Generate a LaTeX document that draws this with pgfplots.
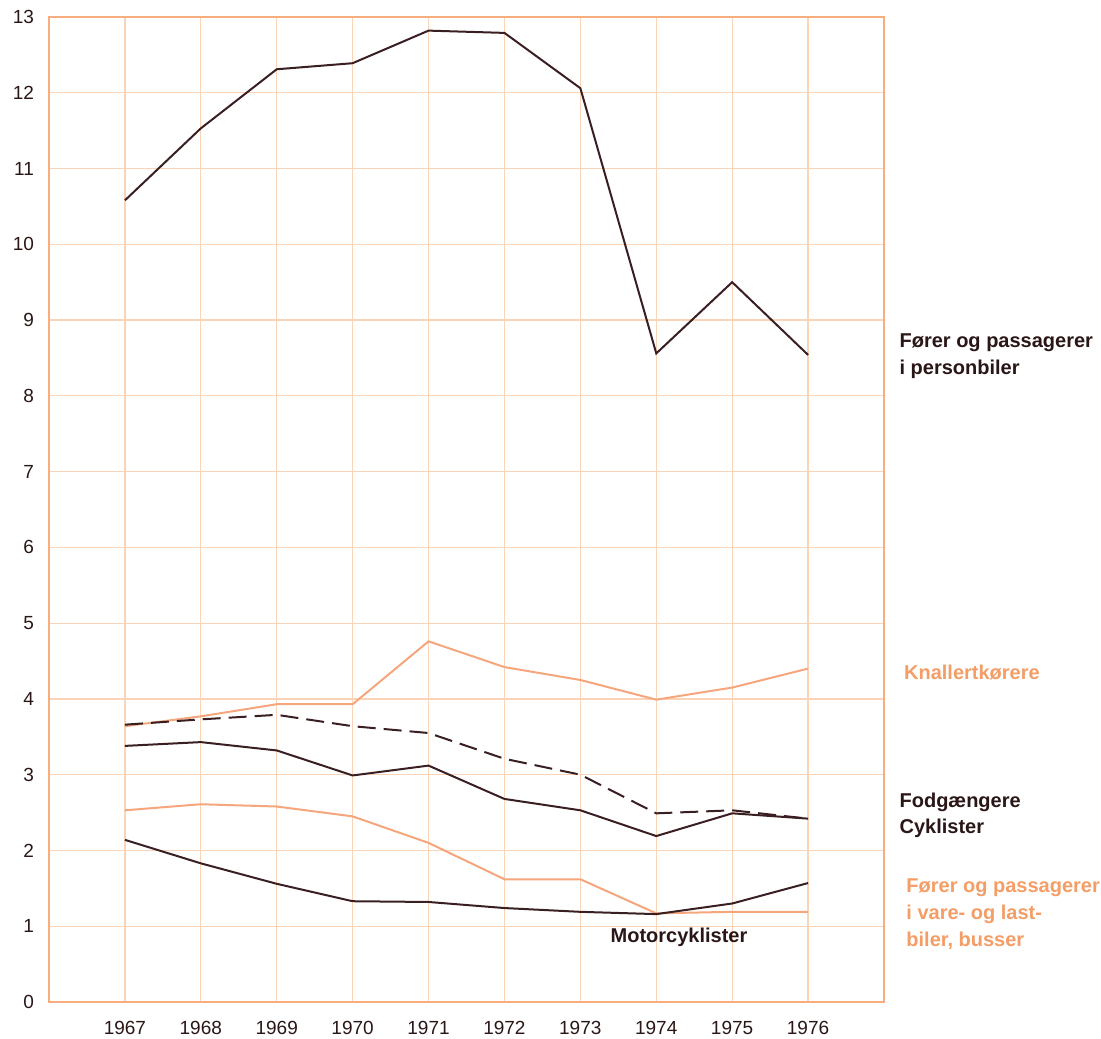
\documentclass[border=0pt]{standalone}
\usepackage{fontspec}
\setmainfont{Liberation Sans}
\usepackage{pgfplots}
\pgfplotsset{compat=1.18}
\definecolor{darkline}{HTML}{3A1F22}
\definecolor{orline}{HTML}{F6A67C}
\definecolor{gridc}{HTML}{FBD3B6}
\definecolor{axc}{HTML}{F8AD7E}
\definecolor{darktxt}{HTML}{2A1616}
\definecolor{ortxt}{HTML}{F49D66}
\begin{document}
\begin{tikzpicture}
\useasboundingbox (-24.5pt,-18pt) rectangle (526pt,501pt);
\begin{axis}[
  at={(0,0)}, anchor=south west,
  scale only axis, width=417.5pt, height=492.5pt,
  xmin=1966, xmax=1977, ymin=0, ymax=13,
  xtick={1967,...,1976}, ytick={0,...,13},
  xticklabel style={/pgf/number format/1000 sep={}},
  /pgf/number format/assume math mode=true,
  tick style={draw=none},
  grid=major, major grid style={draw=gridc, line width=0.6pt},
  axis line style={draw=axc, line width=0.9pt},
  ticklabel style={font=\fontsize{9.5}{11}\selectfont, text=darktxt},
  xticklabel shift=6pt,
  yticklabel style={xshift=-4pt},
  clip=false,
]
% Personbiler
\addplot[darkline, line width=1pt] coordinates {
(1967,10.58) (1968,11.53) (1969,12.31) (1970,12.39) (1971,12.82) (1972,12.79) (1973,12.06) (1974,8.56) (1975,9.50) (1976,8.54)};
% Knallertkorere
\addplot[orline, line width=1pt] coordinates {
(1967,3.64) (1968,3.77) (1969,3.93) (1970,3.93) (1971,4.76) (1972,4.42) (1973,4.25) (1974,3.99) (1975,4.15) (1976,4.40)};
% Fodgaengere (dashed)
\addplot[darkline, line width=1pt, dash pattern=on 9pt off 4pt] coordinates {
(1967,3.66) (1968,3.73) (1969,3.79) (1970,3.64) (1971,3.55) (1972,3.21) (1973,3.00) (1974,2.49) (1975,2.53) (1976,2.42)};
% Cyklister
\addplot[darkline, line width=1pt] coordinates {
(1967,3.38) (1968,3.43) (1969,3.32) (1970,2.99) (1971,3.12) (1972,2.68) (1973,2.53) (1974,2.19) (1975,2.49) (1976,2.42)};
% Vare- og lastbiler
\addplot[orline, line width=1pt] coordinates {
(1967,2.53) (1968,2.61) (1969,2.58) (1970,2.45) (1971,2.10) (1972,1.62) (1973,1.62) (1974,1.17) (1975,1.19) (1976,1.19)};
% Motorcyklister
\addplot[darkline, line width=1pt] coordinates {
(1967,2.14) (1968,1.83) (1969,1.56) (1970,1.33) (1971,1.32) (1972,1.24) (1973,1.19) (1974,1.16) (1975,1.30) (1976,1.57)};

\node[anchor=west, align=left, text=darktxt, font=\fontsize{10}{13.5}\selectfont\bfseries, inner sep=0pt] at (axis cs:1977.2,8.52) {Fører og passagerer\\i personbiler};
\node[anchor=west, align=left, text=ortxt, font=\fontsize{10}{13.5}\selectfont\bfseries, inner sep=0pt] at (axis cs:1977.26,4.35) {Knallertkørere};
\node[anchor=west, align=left, text=darktxt, font=\fontsize{10}{13}\selectfont\bfseries, inner sep=0pt] at (axis cs:1977.2,2.47) {Fodgængere\\Cyklister};
\node[anchor=west, align=left, text=ortxt, font=\fontsize{10}{13.3}\selectfont\bfseries, inner sep=0pt] at (axis cs:1977.29,1.16) {Fører og passagerer\\i vare- og last-\\biler, busser};
\node[anchor=center, text=darktxt, font=\fontsize{10}{11}\selectfont\bfseries] at (axis cs:1974.30,0.85) {Motorcyklister};
\end{axis}
\end{tikzpicture}
\end{document}
